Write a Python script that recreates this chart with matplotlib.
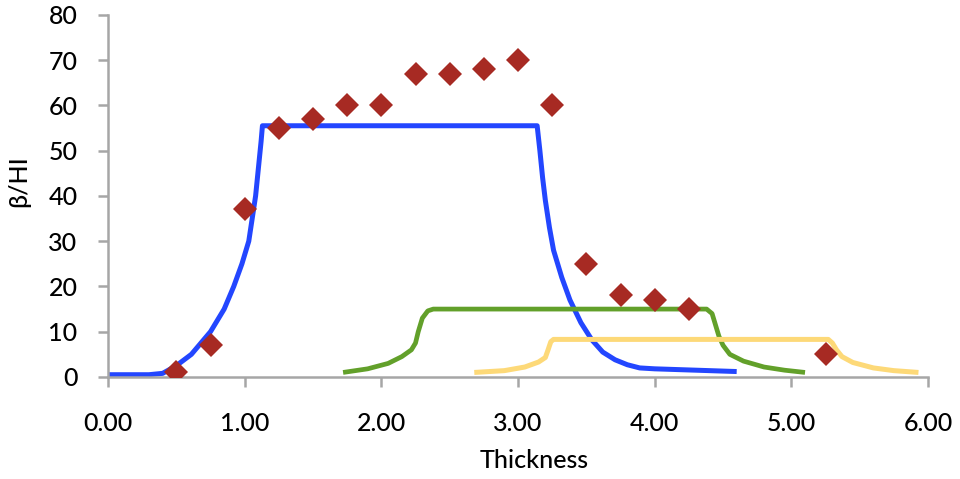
import matplotlib.pyplot as plt

plt.rcParams['font.family'] = ['Lato', 'DejaVu Sans']

# measured points (diamonds)
pts_x = [0.50, 0.75, 1.00, 1.25, 1.50, 1.75, 2.00, 2.25, 2.50, 2.75, 3.00, 3.25,
         3.50, 3.75, 4.00, 4.25, 5.25]
pts_y = [1, 7, 37, 55, 57, 60, 60, 67, 67, 68, 70, 60, 25, 18, 17, 15, 5]

# blue curve
blue_x = [0.00, 0.30, 0.40, 0.50, 0.61, 0.75, 0.85, 0.92, 0.98, 1.03, 1.08, 1.10,
          1.12, 1.13, 2.00, 3.14, 3.16, 3.18, 3.20, 3.23, 3.26, 3.32, 3.38, 3.46,
          3.54, 3.62, 3.71, 3.80, 3.89, 4.00, 4.30, 4.60]
blue_y = [0.5, 0.5, 0.8, 2.5, 5, 10, 15, 20, 25, 30, 40, 46,
          52, 55.5, 55.5, 55.5, 50, 44, 39, 33, 28, 22, 17, 12,
          8.2, 5.5, 3.8, 2.7, 2.0, 1.8, 1.5, 1.2]

# green curve
green_x = [1.72, 1.90, 2.05, 2.15, 2.22, 2.25, 2.27, 2.30, 2.34, 2.38, 3.00, 4.38,
           4.42, 4.45, 4.47, 4.50, 4.55, 4.65, 4.80, 4.95, 5.10]
green_y = [1.0, 1.8, 3.0, 4.5, 6.0, 7.5, 10, 13, 14.6, 15, 15, 15,
           14, 11, 9, 7, 5, 3.5, 2.2, 1.5, 1.0]

# yellow curve
yellow_x = [2.68, 2.90, 3.05, 3.15, 3.20, 3.22, 3.24, 3.26, 3.35, 5.27, 5.30, 5.33,
            5.37, 5.45, 5.60, 5.75, 5.93]
yellow_y = [1.0, 1.4, 2.2, 3.3, 4.3, 6.0, 7.8, 8.3, 8.3, 8.3, 7.5, 6.0,
            4.5, 3.2, 2.0, 1.4, 1.0]

fig = plt.figure(figsize=(9.6, 4.79), dpi=100)
ax = fig.add_axes([0.1125, 0.213, 0.8542, 0.756])

ax.plot(blue_x, blue_y, color='#2346ff', lw=3.6, solid_capstyle='butt', zorder=2)
ax.plot(green_x, green_y, color='#62a02a', lw=3.4, solid_capstyle='butt', zorder=2)
ax.plot(yellow_x, yellow_y, color='#fdd978', lw=3.6, solid_capstyle='butt', zorder=2)
ax.plot(pts_x, pts_y, linestyle='none', marker='D', ms=12.5, color='#a72a23',
        markeredgewidth=0, zorder=3)

ax.set_xlim(0, 6)
ax.set_ylim(0, 80)
ax.set_xticks([0, 1, 2, 3, 4, 5, 6])
ax.set_xticklabels(['%.2f' % v for v in [0, 1, 2, 3, 4, 5, 6]])
ax.set_yticks(range(0, 81, 10))

for s in ['top', 'right']:
    ax.spines[s].set_visible(False)
for s in ['left', 'bottom']:
    ax.spines[s].set_color('#a6a6a6')
    ax.spines[s].set_linewidth(1.8)
ax.tick_params(axis='both', direction='out', color='#a6a6a6', width=1.8,
               length=7, labelsize=18)
ax.tick_params(axis='y', pad=15)
ax.tick_params(axis='x', pad=18)
for lab in ax.get_xticklabels() + ax.get_yticklabels():
    lab.set_fontweight('medium')

ax.set_xlabel('Thickness', fontsize=18, fontweight='medium')
ax.set_ylabel('β/HI', fontsize=18, fontweight='medium')
ax.xaxis.set_label_coords(0.52, -0.2)
ax.yaxis.set_label_coords(-0.095, 0.54)

plt.savefig('out.png', dpi=100)
